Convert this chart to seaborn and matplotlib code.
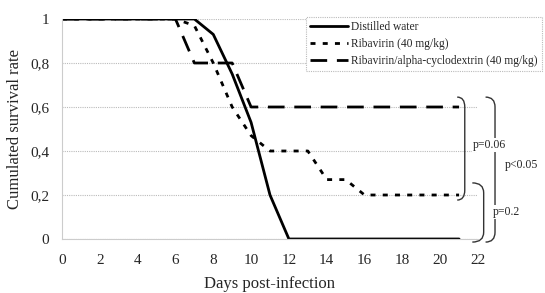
import numpy as np
import pandas as pd
import matplotlib
matplotlib.use("Agg")
import matplotlib.pyplot as plt
from matplotlib.path import Path
from matplotlib.patches import PathPatch
import seaborn as sns

# ---- data ----
days = list(range(0, 22))
water = [1, 1, 1, 1, 1, 1, 1, 1, 0.93, 0.75, 0.53, 0.2, 0, 0, 0, 0, 0, 0, 0, 0, 0, 0]
ribavirin = [1, 1, 1, 1, 1, 1, 1, 0.97, 0.8, 0.6, 0.47, 0.4, 0.4, 0.4, 0.27, 0.27, 0.2, 0.2, 0.2, 0.2, 0.2, 0.2]
cyclo = [1, 1, 1, 1, 1, 1, 1, 0.8, 0.8, 0.8, 0.6, 0.6, 0.6, 0.6, 0.6, 0.6, 0.6, 0.6, 0.6, 0.6, 0.6, 0.6]
series_names = ["Distilled water", "Ribavirin (40 mg/kg)", "Ribavirin/alpha-cyclodextrin (40 mg/kg)"]
x_ticks = list(range(0, 23, 2))
y_ticks = [0, 0.2, 0.4, 0.6, 0.8, 1]
y_tick_labels = ["0", "0,2", "0,4", "0,6", "0,8", "1"]
p_labels = ["p=0.06", "p<0.05", "p=0.2"]

df = pd.DataFrame({
    "day": days * 3,
    "rate": water + ribavirin + cyclo,
    "group": [series_names[0]] * len(days) + [series_names[1]] * len(days) + [series_names[2]] * len(days),
})

sns.set_theme(style="white")
plt.rcParams["font.family"] = ["Liberation Serif", "DejaVu Serif"]

fig = plt.figure(figsize=(5.45, 2.93), dpi=100)
ax = fig.add_axes([62 / 545, 1 - 239 / 293, (478 - 62) / 545, (239 - 19) / 293])

dashes = {series_names[0]: "", series_names[1]: (1.8, 2.6), series_names[2]: (6, 3.5)}
sns.lineplot(data=df, x="day", y="rate", hue="group", style="group",
             palette=["black"] * 3, dashes=dashes, linewidth=2.0, ax=ax,
             legend=False, sort=False)

ax.set_xlim(0, 22)
ax.set_ylim(0, 1)
ax.set_xticks(x_ticks)
ax.set_xticklabels([str(t) for t in x_ticks], fontsize=11)
ax.set_yticks(y_ticks)
ax.set_yticklabels(y_tick_labels, fontsize=11)
ax.tick_params(axis="x", length=0, pad=11)
ax.tick_params(axis="y", length=0, pad=9)
ax.set_xlabel("Days post-infection", fontsize=12, labelpad=6)
ax.set_ylabel("Cumulated survival rate", fontsize=12, labelpad=5)
ax.yaxis.grid(True, color="#bbbbbb", linestyle=(0, (1, 1)), linewidth=0.8)
ax.set_axisbelow(True)
for s in ["top", "right"]:
    ax.spines[s].set_visible(False)
for s in ["left", "bottom"]:
    ax.spines[s].set_color("#cccccc")
    ax.spines[s].set_linewidth(0.8)
ax.spines["bottom"].set_linestyle((0, (1, 1)))

# legend
handles = [plt.Line2D([], [], color="black", lw=2.0, linestyle="-"),
           plt.Line2D([], [], color="black", lw=2.0, linestyle=(0, (1.8, 2.6))),
           plt.Line2D([], [], color="black", lw=2.0, linestyle=(0, (6, 3.5)))]
leg = fig.legend(handles, series_names, loc="upper right",
                 bbox_to_anchor=(542 / 545, 1 - 17 / 293), fontsize=8.3,
                 handlelength=3.3, handletextpad=0.3, labelspacing=0.45,
                 borderpad=0.35, borderaxespad=0, fancybox=False, framealpha=1)
leg.get_frame().set_edgecolor("#bbbbbb")
leg.get_frame().set_linestyle((0, (1, 1)))
leg.get_frame().set_linewidth(0.8)


def bracket(x0, x1, ytop, ybot, r=0.045):
    verts = [(x0, ytop), (x1, ytop), (x1, ytop - r),
             (x1, ybot + r), (x1, ybot), (x0, ybot)]
    codes = [Path.MOVETO, Path.CURVE3, Path.CURVE3,
             Path.LINETO, Path.CURVE3, Path.CURVE3]
    ax.add_patch(PathPatch(Path(verts, codes), fill=False, lw=1.0,
                           color="#333333", clip_on=False))


bracket(20.9, 21.3, 0.645, 0.177)
bracket(22.4, 22.9, 0.645, -0.014)
bracket(21.7, 22.3, 0.255, -0.014)

ax.text(21.7, 0.427, p_labels[0], fontsize=8.5, va="center", ha="left", clip_on=False,
        bbox=dict(facecolor="white", edgecolor="none", pad=0.5))
ax.text(23.4, 0.336, p_labels[1], fontsize=8.5, va="center", ha="left", clip_on=False)
ax.text(22.8, 0.123, p_labels[2], fontsize=8.5, va="center", ha="left", clip_on=False,
        bbox=dict(facecolor="white", edgecolor="none", pad=0.5))

fig.savefig("out.png", dpi=100)
